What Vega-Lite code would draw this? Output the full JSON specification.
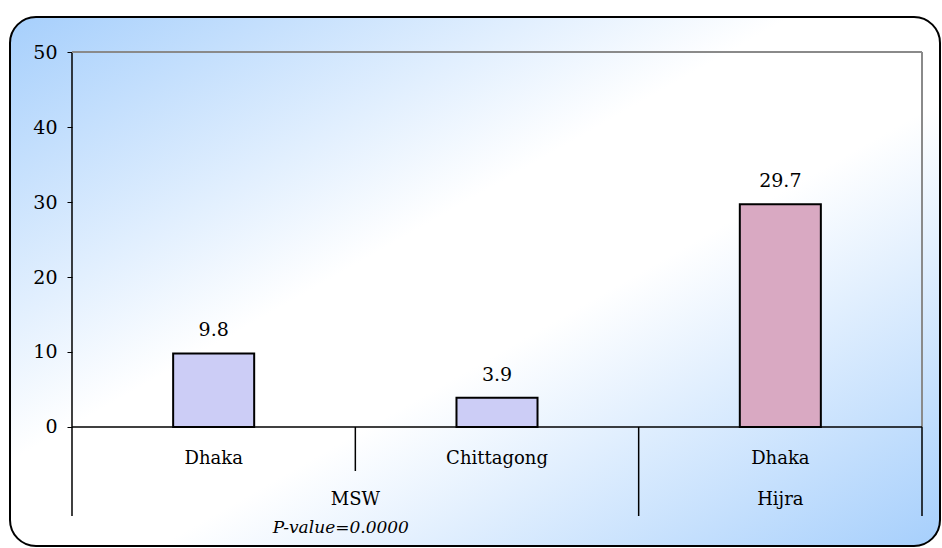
{
  "$schema": "https://vega.github.io/schema/vega-lite/v6.json",
  "width": 930,
  "height": 529,
  "autosize": {"type": "none"},
  "padding": {"left": 10, "top": 17, "right": 2, "bottom": 2},
  "background": "white",
  "config": {
    "font": "DejaVu Serif",
    "view": {
      "fill": {"gradient": "linear", "x1": 0, "y1": 0, "x2": 1, "y2": 1,
        "stops": [
          {"offset": 0, "color": "#a6cffc"},
          {"offset": 0.42, "color": "#ffffff"},
          {"offset": 0.58, "color": "#ffffff"},
          {"offset": 1, "color": "#a6cffc"}
        ]},
      "stroke": "black",
      "strokeWidth": 2,
      "cornerRadius": 26
    }
  },
  "data": {"values": [
    {"id": "a", "cat": "Dhaka", "grp": "MSW", "value": 9.8},
    {"id": "b", "cat": "Chittagong", "grp": "MSW", "value": 3.9},
    {"id": "c", "cat": "Dhaka", "grp": "Hijra", "value": 29.7}
  ]},
  "layer": [
    {
      "mark": {"type": "bar", "width": {"band": 0.286}, "stroke": "black", "strokeWidth": 2},
      "encoding": {
        "x": {"field": "id", "type": "nominal",
          "scale": {"type": "band", "domain": ["a", "b", "c"], "paddingInner": 0, "paddingOuter": 0.141176, "align": 0.775},
          "axis": {"orient": "bottom", "offset": -119, "domain": false, "ticks": false, "tickSize": 0,
            "labelPadding": 36, "labelBaseline": "alphabetic", "labelAngle": 0,
            "labelExpr": "datum.value == 'b' ? 'Chittagong' : 'Dhaka'",
            "labelFont": "DejaVu Serif",
            "labelFontSize": 18, "labelColor": "black", "title": null}},
        "y": {"field": "value", "type": "quantitative",
          "scale": {"domain": [-15.8667, 54.6667], "nice": false, "zero": false},
          "axis": {"values": [0, 10, 20, 30, 40, 50], "offset": -62, "domain": false, "grid": false,
            "labelFont": "DejaVu Serif",
            "tickColor": "black", "tickSize": 5, "labelPadding": 10, "labelFontSize": 19,
            "labelColor": "black", "title": null}},
        "fill": {"field": "grp", "type": "nominal",
          "scale": {"domain": ["MSW", "Hijra"], "range": ["#cccdf6", "#d9a9c2"]}, "legend": null}
      }
    },
    {
      "mark": {"type": "text", "dy": -17, "baseline": "alphabetic", "fontSize": 19, "color": "black", "font": "DejaVu Serif"},
      "encoding": {
        "x": {"field": "id", "type": "nominal"},
        "y": {"field": "value", "type": "quantitative"},
        "text": {"field": "value", "type": "quantitative", "format": ".1f"}
      }
    },
    {
      "data": {"values": [{}]},
      "mark": {"type": "rule", "color": "black", "strokeWidth": 1.5},
      "encoding": {
        "x": {"datum": "a", "type": "nominal", "bandPosition": 0},
        "y": {"datum": 50, "type": "quantitative"},
        "y2": {"datum": -11.867}
      }
    },
    {
      "data": {"values": [{}]},
      "mark": {"type": "rule", "color": "black", "strokeWidth": 1.5},
      "encoding": {
        "x": {"datum": "b", "type": "nominal", "bandPosition": 0},
        "y": {"datum": 0, "type": "quantitative"},
        "y2": {"datum": -5.867}
      }
    },
    {
      "data": {"values": [{}]},
      "mark": {"type": "rule", "color": "black", "strokeWidth": 1.5},
      "encoding": {
        "x": {"datum": "c", "type": "nominal", "bandPosition": 0},
        "y": {"datum": 0, "type": "quantitative"},
        "y2": {"datum": -11.867}
      }
    },
    {
      "data": {"values": [{}]},
      "mark": {"type": "rule", "color": "black", "strokeWidth": 1.5},
      "encoding": {
        "x": {"datum": "c", "type": "nominal", "bandPosition": 1},
        "y": {"datum": 0, "type": "quantitative"},
        "y2": {"datum": -11.867}
      }
    },
    {
      "data": {"values": [{}]},
      "mark": {"type": "rule", "color": "#8a8a8a", "strokeWidth": 2},
      "encoding": {
        "x": {"datum": "c", "type": "nominal", "bandPosition": 1},
        "y": {"datum": 50, "type": "quantitative"},
        "y2": {"datum": 0}
      }
    },
    {
      "data": {"values": [{}]},
      "mark": {"type": "rule", "color": "#8a8a8a", "strokeWidth": 2},
      "encoding": {
        "x": {"datum": "a", "type": "nominal", "bandPosition": 0},
        "x2": {"datum": "c", "bandPosition": 1},
        "y": {"datum": 50, "type": "quantitative"}
      }
    },
    {
      "data": {"values": [{}]},
      "mark": {"type": "rule", "color": "black", "strokeWidth": 1.5},
      "encoding": {
        "x": {"datum": "a", "type": "nominal", "bandPosition": 0},
        "x2": {"datum": "c", "bandPosition": 1},
        "y": {"datum": 0, "type": "quantitative"}
      }
    },
    {
      "data": {"values": [{"grp": "MSW"}]},
      "mark": {"type": "text", "baseline": "middle", "fontSize": 18, "color": "black", "font": "DejaVu Serif"},
      "encoding": {
        "x": {"datum": "b", "type": "nominal", "bandPosition": 0},
        "y": {"datum": -9.733, "type": "quantitative"},
        "text": {"field": "grp"}
      }
    },
    {
      "data": {"values": [{"grp": "Hijra"}]},
      "mark": {"type": "text", "baseline": "middle", "fontSize": 18, "color": "black", "font": "DejaVu Serif"},
      "encoding": {
        "x": {"datum": "c", "type": "nominal"},
        "y": {"datum": -9.733, "type": "quantitative"},
        "text": {"field": "grp"}
      }
    },
    {
      "data": {"values": [{"note": "P-value=0.0000"}]},
      "mark": {"type": "text", "baseline": "middle", "fontSize": 17, "fontStyle": "italic", "dx": -14.5, "color": "black", "font": "DejaVu Serif"},
      "encoding": {
        "x": {"datum": "b", "type": "nominal", "bandPosition": 0},
        "y": {"datum": -13.47, "type": "quantitative"},
        "text": {"field": "note"}
      }
    }
  ]
}
